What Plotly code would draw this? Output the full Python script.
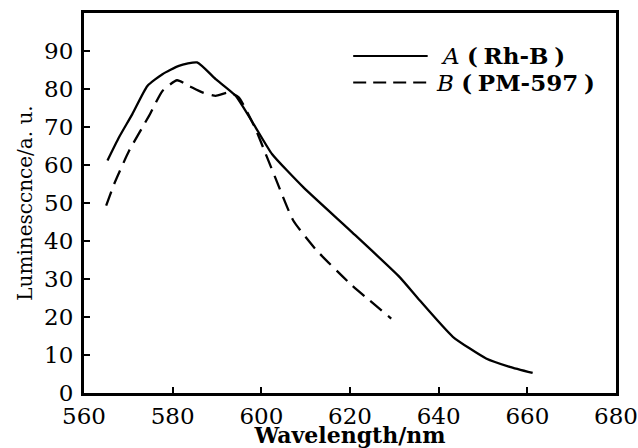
import plotly.graph_objects as go

# Curve A (Rh-B), solid
wl_a = [565.3, 567.9, 570.9, 574.3, 577.7, 581.4, 585.5, 589.7, 594.2, 598.7, 602.4, 609.5, 620.0, 631.2, 635.7, 643.2, 650.7, 656.0, 661.2]
lum_a = [61.2, 67.3, 73.4, 80.8, 83.9, 86.1, 87.0, 82.6, 78.2, 69.9, 62.9, 54.1, 42.8, 30.5, 24.4, 14.8, 9.1, 6.9, 5.3]

# Curve B (PM-597), dashed
wl_b = [565.0, 566.8, 570.2, 574.7, 577.7, 581.0, 583.7, 586.7, 589.7, 592.7, 594.9, 598.5, 601.3, 603.1, 607.2, 612.5, 620.0, 629.3]
lum_b = [49.3, 55.0, 63.8, 73.0, 79.5, 82.3, 80.8, 79.1, 78.2, 79.1, 77.8, 70.0, 62.0, 56.8, 45.4, 37.5, 28.8, 19.6]

x_ticks = [560, 580, 600, 620, 640, 660, 680]
y_ticks = [0, 10, 20, 30, 40, 50, 60, 70, 80, 90]

FONT = "DejaVu Serif"

fig = go.Figure()
fig.add_trace(go.Scatter(x=wl_a, y=lum_a, mode="lines",
                         line=dict(color="black", width=2.3, shape="spline", smoothing=0.5),
                         name="A (Rh-B)", showlegend=False))
fig.add_trace(go.Scatter(x=wl_b, y=lum_b, mode="lines",
                         line=dict(color="black", width=2.3, dash="15px,8px", shape="spline", smoothing=0.5),
                         name="B (PM-597)", showlegend=False))

# custom legend
fig.add_shape(type="line", xref="paper", yref="paper", x0=0.506, x1=0.646, y0=0.887, y1=0.887,
              line=dict(color="black", width=2))
fig.add_shape(type="line", xref="paper", yref="paper", x0=0.506, x1=0.655, y0=0.817, y1=0.817,
              line=dict(color="black", width=2, dash="13px,7px"))
fig.add_annotation(xref="paper", yref="paper", x=0.668, y=0.887, xanchor="left", yanchor="middle",
                   text="<i>A</i> <b>(\u2005Rh-B\u2005)</b>", showarrow=False,
                   font=dict(family=FONT, size=23, color="black"))
fig.add_annotation(xref="paper", yref="paper", x=0.657, y=0.817, xanchor="left", yanchor="middle",
                   text="<i>B</i> <b>(\u2005PM-597\u2005)</b>", showarrow=False,
                   font=dict(family=FONT, size=23, color="black"))

fig.update_layout(
    width=638, height=448,
    margin=dict(l=84, r=22, t=13, b=55),
    paper_bgcolor="white", plot_bgcolor="white",
    font=dict(family=FONT, color="black"),
    xaxis=dict(range=[560, 680], tickvals=x_ticks, ticks="inside", ticklen=6, tickwidth=1.5,
               tickcolor="black", showline=True, linecolor="black", linewidth=3, mirror=True, showgrid=False,
               zeroline=False, tickfont=dict(family=FONT, size=23), ticklabelstandoff=0, automargin=False,
               title=dict(text="<b>Wavelength/nm</b>", font=dict(family=FONT, size=22), standoff=8)),
    yaxis=dict(range=[0, 100], tickvals=y_ticks, ticks="inside", ticklen=6, tickwidth=1.5,
               tickcolor="black", showline=True, linecolor="black", linewidth=3, mirror=True, showgrid=False,
               zeroline=False, tickfont=dict(family=FONT, size=23), ticklabelstandoff=3, automargin=False,
               title=dict(text="Luminesccnce/a. u.", font=dict(family=FONT, size=20), standoff=7)),
)

fig.write_html("out.html", config={"displayModeBar": False},
               post_script="document.body.style.margin='0';document.body.style.overflow='hidden';")
